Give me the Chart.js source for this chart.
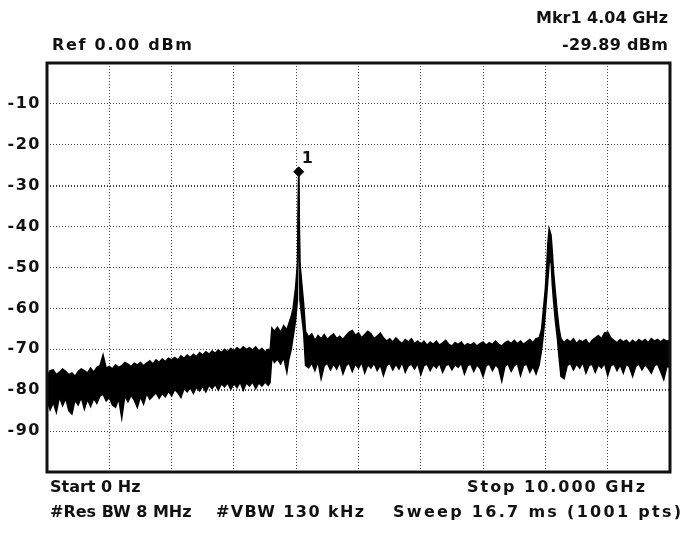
<!DOCTYPE html>
<html>
<head>
<meta charset="utf-8">
<title>Spectrum 0 - 10 GHz</title>
<script src="https://cdn.jsdelivr.net/npm/chart.js@4.4.0/dist/chart.umd.min.js"></script>
<style>
  html, body { margin: 0; padding: 0; background: #fff; }
  canvas { display: block; }
</style>
</head>
<body>
<canvas id="spec" width="684" height="537"></canvas>
<script>
// Trace: frequency (GHz) with the upper and
// lower edge of the noisy trace band (dBm). Rows line up across the arrays.
const freqGHz = [
  0.00, 0.05, 0.10, 0.15, 0.20, 0.25, 0.30, 0.35, 0.40, 0.45,
  0.50, 0.55, 0.60, 0.65, 0.70, 0.75, 0.80, 0.85, 0.90, 0.95,
  1.00, 1.05, 1.10, 1.15, 1.20, 1.25, 1.30, 1.35, 1.40, 1.45,
  1.50, 1.55, 1.60, 1.65, 1.70, 1.75, 1.80, 1.85, 1.90, 1.95,
  2.00, 2.05, 2.10, 2.15, 2.20, 2.25, 2.30, 2.35, 2.40, 2.45,
  2.50, 2.55, 2.60, 2.65, 2.70, 2.75, 2.80, 2.85, 2.90, 2.95,
  3.00, 3.05, 3.10, 3.15, 3.20, 3.25, 3.30, 3.35, 3.40, 3.45,
  3.50, 3.55, 3.58,
  3.61, 3.65, 3.70, 3.75, 3.80, 3.85, 3.88,
  3.92, 3.95, 3.99, 4.02, 4.04, 4.06, 4.09, 4.12, 4.15,
  4.20, 4.25, 4.30, 4.35, 4.40, 4.45, 4.50, 4.55, 4.60, 4.65,
  4.70, 4.75, 4.80, 4.85, 4.90, 4.95, 5.00, 5.05, 5.10, 5.15,
  5.20, 5.25, 5.30, 5.35, 5.40, 5.45, 5.50, 5.55, 5.60, 5.65,
  5.70, 5.75, 5.80, 5.85, 5.90, 5.95, 6.00, 6.05, 6.10, 6.15,
  6.20, 6.25, 6.30, 6.35, 6.40, 6.45, 6.50, 6.55, 6.60, 6.65,
  6.70, 6.75, 6.80, 6.85, 6.90, 6.95, 7.00, 7.05, 7.10, 7.15,
  7.20, 7.25, 7.30, 7.35, 7.40, 7.45, 7.50, 7.55, 7.60, 7.65,
  7.70, 7.75, 7.80, 7.85, 7.90,
  7.94, 7.97, 8.00, 8.02, 8.04, 8.06, 8.09, 8.11, 8.13, 8.16, 8.19, 8.22, 8.25,
  8.30, 8.35, 8.40, 8.45, 8.50, 8.55, 8.60, 8.65, 8.70, 8.75,
  8.80, 8.85, 8.90, 8.95, 9.00, 9.05, 9.10, 9.15, 9.20, 9.25,
  9.30, 9.35, 9.40, 9.45, 9.50, 9.55, 9.60, 9.65, 9.70, 9.75,
  9.80, 9.85, 9.90, 9.95, 10.00
];
const traceTop = [
  -76.5, -75.2, -75.0, -76.2, -75.6, -74.8, -75.4, -76.2, -75.8, -76.6,
  -75.4, -74.8, -75.2, -75.8, -74.6, -75.6, -74.4, -74.0, -71.4, -74.6,
  -74.2, -74.8, -73.8, -74.4, -74.0, -73.2, -73.6, -74.2, -73.4, -73.8,
  -73.2, -74.0, -73.4, -72.8, -73.6, -72.6, -73.2, -72.4, -73.0, -72.2,
  -72.6, -72.0, -72.6, -71.6, -72.2, -71.4, -72.0, -71.2, -71.8, -70.8,
  -71.4, -70.6, -71.2, -70.4, -71.0, -70.2, -70.8, -70.0, -70.6, -69.8,
  -70.4, -69.6, -70.2, -69.4, -70.0, -69.6, -70.2, -69.4, -70.4, -69.8,
  -70.6, -70.0, -70.6,
  -64.8, -65.6, -64.6, -65.8, -64.2, -65.2, -63.8,
  -62.0, -60.0, -55.0, -49.0, -27.0, -49.0, -54.0, -59.0, -65.6,
  -67.0, -66.2, -67.8, -66.6, -67.4, -66.4, -67.6, -66.8, -66.2, -67.4,
  -66.8, -67.6, -66.6, -65.8, -65.4, -66.6, -66.0, -67.2, -66.4, -65.6,
  -66.2, -67.4, -66.8, -66.0, -67.2, -68.0, -67.4, -68.2, -67.2, -68.0,
  -68.6, -67.6, -68.2, -67.4, -68.6, -68.0, -68.8, -68.0, -69.0, -68.2,
  -68.8, -68.0, -69.0, -68.4, -67.8, -68.8, -69.2, -68.4, -68.8, -68.2,
  -69.2, -68.6, -69.0, -68.4, -69.2, -68.6, -68.2, -69.0, -68.4, -68.8,
  -68.0, -68.8, -69.2, -68.4, -68.0, -68.6, -67.8, -68.6, -68.0, -68.8,
  -68.2, -67.6, -68.4, -67.4, -67.2,
  -65.0, -60.0, -55.0, -50.0, -44.0, -40.5, -42.0, -46.0, -51.0, -56.0, -61.0, -65.0, -67.4,
  -68.4, -67.6, -68.2, -67.4, -68.6, -67.8, -68.2, -67.6, -68.8, -67.8,
  -67.2, -66.6, -67.4, -66.0, -65.8, -67.2, -67.8, -68.4, -67.6, -68.2,
  -67.8, -68.6, -67.8, -68.4, -67.6, -68.2, -67.6, -68.4, -67.4, -68.0,
  -67.6, -68.2, -67.6, -68.0, -67.8
];
const traceBottom = [
  -82.5, -84.8, -83.0, -85.4, -81.6, -83.8, -82.0, -85.0, -85.8, -82.4,
  -83.6, -81.8, -84.6, -82.2, -84.0, -82.0, -83.2, -81.4, -81.0, -82.6,
  -81.8, -83.6, -84.2, -82.0, -86.8, -81.4, -82.8, -81.2, -82.4, -84.2,
  -81.6, -83.4, -80.8, -82.2, -81.4, -80.6, -82.0, -80.8, -81.6, -80.2,
  -81.4, -79.8, -80.6, -81.8, -79.6, -80.4, -79.4, -80.8, -79.2, -80.2,
  -79.0, -80.4, -78.8, -79.6, -78.6, -80.0, -78.4, -79.2, -78.2, -79.8,
  -78.4, -79.4, -78.0, -80.0, -78.2, -79.0, -78.0, -79.6, -78.2, -79.0,
  -78.0, -78.8, -78.2,
  -72.0, -73.2, -72.4, -73.6, -72.0, -75.6, -72.6,
  -70.0, -67.0, -63.0, -58.0, -27.0, -58.0, -62.0, -66.0, -74.0,
  -74.5, -73.4, -75.2, -73.0, -77.2, -74.0, -73.4, -75.0, -73.6, -74.8,
  -73.2, -76.0, -74.0, -73.4, -75.4, -73.6, -74.6, -73.2, -75.8, -73.8,
  -74.6, -73.4, -75.2, -73.8, -76.4, -74.0, -73.4, -75.0, -73.6, -74.8,
  -73.2, -75.6, -74.0, -73.6, -74.8, -73.4, -76.2, -74.0, -73.6, -75.2,
  -73.8, -74.6, -73.4, -75.6, -74.0, -73.6, -75.0, -73.8, -74.4, -73.4,
  -76.0, -74.0, -73.6, -75.4, -73.8, -74.6, -76.6, -74.0, -73.6, -75.2,
  -73.8, -74.6, -77.8, -74.2, -73.6, -75.4, -74.0, -73.4, -76.4, -74.0,
  -73.6, -75.6, -74.2, -76.0, -73.8,
  -70.0, -66.0, -61.0, -57.0, -53.0, -49.0, -48.0, -54.0, -58.0, -63.0, -67.0, -72.0, -76.6,
  -77.2, -74.0, -73.4, -75.0, -73.6, -74.6, -73.2, -75.8, -74.0, -73.6,
  -75.6, -73.8, -74.6, -73.4, -76.4, -74.0, -73.6, -75.2, -73.8, -75.8,
  -73.6, -74.4, -76.6, -74.2, -73.6, -75.0, -73.8, -74.6, -75.8, -74.0,
  -73.6, -75.4, -77.4, -74.2, -74.4
];

// Marker 1 (diamond drawn where it sits on screen)
const markerGHz = 4.04;
const markerDbm = -26.6;
const markerName = '1';

// Screen annotations
const refText = 'Ref 0.00 dBm';
const mkrFreqText = 'Mkr1 4.04 GHz';
const mkrLevelText = '-29.89 dBm';
const startText = 'Start 0 Hz';
const stopText = 'Stop 10.000 GHz';
const rbwText = '#Res BW 8 MHz';
const vbwText = '#VBW 130 kHz';
const sweepText = 'Sweep 16.7 ms (1001 pts)';

const FAMILY = '"DejaVu Sans", sans-serif';
const FONT = 'bold 16px ' + FAMILY;
const INK = '#111';

// Screen font is loosely spaced: open the spacing (0..3 px) so the text
// covers about the same span as on the screen, then anchor it.
function screenLabel(ctx, text, x0, x1, y, anchor) {
  ctx.letterSpacing = '0px';
  const w = ctx.measureText(text).width;
  const gaps = Math.max(1, text.length - 1);
  const ls = Math.min(3, Math.max(0, (x1 - x0 - w) / gaps));
  const width = w + gaps * ls;
  let left = x0;
  if (anchor === 'right') left = x1 - width;
  if (anchor === 'center') left = (x0 + x1 - width) / 2;
  ctx.letterSpacing = ls.toFixed(2) + 'px';
  ctx.textAlign = 'left';
  ctx.fillText(text, left, y);
}

const screenText = {
  id: 'screenText',
  beforeDraw(chart) {
    // slightly open spacing for the axis numbers too
    chart.ctx.letterSpacing = '1.5px';
  },
  afterDraw(chart) {
    const ctx = chart.ctx;
    ctx.save();
    ctx.fillStyle = INK;
    ctx.font = FONT;
    ctx.textBaseline = 'middle';
    screenLabel(ctx, mkrFreqText, 537, 668, 19, 'right');
    screenLabel(ctx, mkrLevelText, 562, 668, 46, 'right');
    screenLabel(ctx, refText, 52, 192, 46, 'left');
    screenLabel(ctx, startText, 50, 133, 488, 'left');
    screenLabel(ctx, stopText, 467, 645, 488, 'right');
    screenLabel(ctx, rbwText, 50, 186, 513, 'left');
    screenLabel(ctx, vbwText, 216, 364, 513, 'center');
    screenLabel(ctx, sweepText, 393, 681, 513, 'right');

    // marker number next to the diamond
    const mx = chart.scales.x.getPixelForValue(markerGHz);
    const my = chart.scales.y.getPixelForValue(markerDbm);
    ctx.letterSpacing = '0px';
    ctx.textAlign = 'left';
    ctx.fillText(markerName, mx + 3, my - 13);

    // heavy graticule frame
    const a = chart.chartArea;
    ctx.strokeStyle = INK;
    ctx.lineWidth = 3;
    ctx.strokeRect(a.left, a.top, a.right - a.left, a.bottom - a.top);
    ctx.restore();
    ctx.letterSpacing = '0px';
  }
};

const pts = arr => freqGHz.map((f, i) => ({ x: f, y: arr[i] }));

new Chart(document.getElementById('spec').getContext('2d'), {
  type: 'line',
  data: {
    datasets: [
      {
        label: 'top',
        data: pts(traceTop),
        borderColor: '#000',
        borderWidth: 1.5,
        pointRadius: 0,
        tension: 0,
        fill: false
      },
      {
        label: 'bottom',
        data: pts(traceBottom),
        borderColor: '#000',
        backgroundColor: '#000',
        borderWidth: 1.5,
        pointRadius: 0,
        tension: 0,
        fill: '-1'
      },
      {
        label: 'marker',
        type: 'scatter',
        data: [{ x: markerGHz, y: markerDbm }],
        pointStyle: 'rectRot',
        pointRadius: 5,
        backgroundColor: '#000',
        borderColor: '#000'
      }
    ]
  },
  options: {
    responsive: false,
    animation: false,
    events: [],
    layout: { padding: { top: 63, right: 14, bottom: 65, left: 0 } },
    plugins: { legend: { display: false }, tooltip: { enabled: false } },
    scales: {
      x: {
        type: 'linear',
        min: 0,
        max: 10,
        ticks: { display: false, stepSize: 1 },
        grid: { color: '#444', lineWidth: 1, drawTicks: false },
        border: { display: false, dash: [1, 2] },
        afterFit(scale) { scale.height = 0; }
      },
      y: {
        min: -100,
        max: 0,
        ticks: {
          stepSize: 10,
          padding: 6,
          color: INK,
          font: { family: FAMILY, size: 16, weight: 'bold' },
          callback: v => (v === 0 || v === -100) ? '' : String(v)
        },
        grid: {
          color: '#444',
          lineWidth: ctx => (ctx.tick && (ctx.tick.value === -30 || ctx.tick.value === -80)) ? 2 : 1,
          drawTicks: false
        },
        border: { display: false, dash: [1, 2] },
        afterFit(scale) { scale.width = 47; }
      }
    }
  },
  plugins: [screenText]
});
</script>
</body>
</html>
